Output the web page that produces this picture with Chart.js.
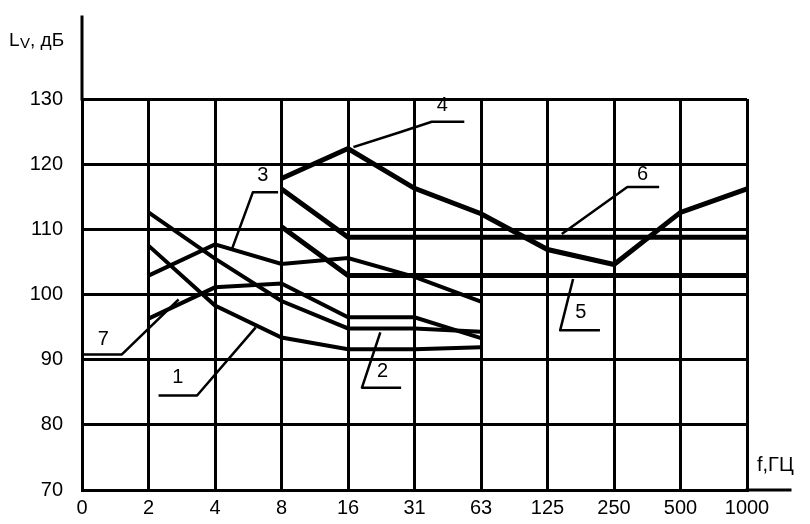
<!DOCTYPE html>
<html>
<head>
<meta charset="utf-8">
<script src="https://cdn.jsdelivr.net/npm/chart.js@4.4.1/dist/chart.umd.min.js"></script>
<style>
  html, body { margin: 0; padding: 0; background: #fff; }
  #wrap { width: 810px; height: 524px; }
</style>
</head>
<body>
<div id="wrap"><canvas id="chart" width="810" height="524"></canvas></div>
<script>
// frequency bands, Hz
const freqLabels = ["0", "2", "4", "8", "16", "31", "63", "125", "250", "500", "1000"];
const yTicks = [70, 80, 90, 100, 110, 120, 130];

// vibration level Lv, dB (null = no value at that band)
const curve1 = [null, 107.5, 98.3, 93.4, 91.6, 91.6, 91.9, null, null, null, null];
const curve2 = [null, 112.6, 105.5, 99.0, 94.8, 94.8, 94.3, null, null, null, null];
const curve3 = [null, 102.9, 107.7, 104.7, 105.6, 102.7, 98.9, null, null, null, null];
const curve4 = [null, null, null, 117.8, 122.4, 116.3, 112.4, 106.9, 104.6, 112.6, 116.2];
const curve5 = [null, null, null, 110.4, 102.9, 102.9, 102.9, 102.9, 102.9, 102.9, 102.9];
const curve6 = [null, null, null, 116.2, 108.8, 108.8, 108.8, 108.8, 108.8, 108.8, 108.8];
const curve7 = [null, 96.3, 101.1, 101.7, 96.5, 96.5, 93.3, null, null, null, null];

// curve number labels: leader polyline in (band index, dB) + text spot
const leaderNames = ["1", "2", "3", "4", "5", "6", "7"];
const leaderPaths = [
  [[2.6, 94.8], [1.73, 84.5], [1.17, 84.5]],
  [[4.48, 94.0], [4.21, 85.7], [4.78, 85.7]],
  [[2.26, 107.1], [2.57, 115.7], [2.93, 115.7]],
  [[4.1, 122.7], [4.78, 124.9], [5.26, 126.5], [5.73, 126.5]],
  [[7.38, 102.2], [7.19, 94.5], [7.77, 94.5]],
  [[7.23, 109.4], [8.2, 116.5], [8.66, 116.5]],
  [[1.44, 99.1], [0.6, 90.8], [0.02, 90.8]]
];
const leaderText = [[1.44, 87.2], [4.52, 88.2], [2.72, 118.2], [5.42, 129.0], [7.5, 97.2], [8.43, 118.4], [0.32, 93.1]];

const curves = [curve1, curve2, curve3, curve4, curve5, curve6, curve7];
const widths = [4, 4, 4, 5, 5, 5, 4];

const FONT = "'Liberation Sans', Arial, sans-serif";

const annotations = {
  id: "annotations",
  afterDatasetsDraw(chart) {
    const { ctx, scales: { x, y }, chartArea } = chart;
    ctx.save();
    ctx.strokeStyle = "#000";
    ctx.fillStyle = "#000";
    ctx.lineCap = "square";

    // axis extensions
    ctx.lineWidth = 3;
    ctx.beginPath();
    ctx.moveTo(chartArea.left, chartArea.top);
    ctx.lineTo(chartArea.left, 17);
    ctx.moveTo(chartArea.right, chartArea.bottom);
    ctx.lineTo(790, chartArea.bottom);
    ctx.stroke();

    // leaders
    ctx.lineWidth = 2.5;
    ctx.lineJoin = "round";
    leaderPaths.forEach((path) => {
      ctx.beginPath();
      path.forEach(([i, v], k) => {
        const px = x.getPixelForValue(i);
        const py = y.getPixelForValue(v);
        if (k === 0) ctx.moveTo(px, py);
        else ctx.lineTo(px, py);
      });
      ctx.stroke();
    });

    ctx.font = "20px " + FONT;
    ctx.textAlign = "center";
    ctx.textBaseline = "middle";
    leaderText.forEach(([i, v], k) => {
      ctx.fillText(leaderNames[k], x.getPixelForValue(i), y.getPixelForValue(v));
    });

    // axis titles
    ctx.textAlign = "left";
    ctx.font = "19px " + FONT;
    ctx.fillText("L", 9, 41);
    ctx.font = "15px " + FONT;
    ctx.fillText("V", 20, 44);
    ctx.font = "19px " + FONT;
    ctx.fillText(", дБ", 30, 41);
    ctx.font = "20px " + FONT;
    ctx.fillText("f,ГЦ", 757, 465);
    ctx.restore();
  }
};

new Chart(document.getElementById("chart"), {
  type: "line",
  data: {
    labels: freqLabels,
    datasets: curves.map((c, i) => ({
      label: leaderNames[i],
      data: c,
      borderColor: "#000",
      borderWidth: widths[i],
      pointRadius: 0,
      tension: 0,
      fill: false
    }))
  },
  options: {
    responsive: false,
    animation: false,
    layout: { padding: { top: 99, right: 63, left: 0, bottom: 0 } },
    plugins: { legend: { display: false }, tooltip: { enabled: false } },
    scales: {
      x: {
        offset: false,
        grid: { color: "#000", lineWidth: 3, drawTicks: false },
        border: { color: "#000", width: 3 },
        ticks: { color: "#000", font: { family: FONT, size: 20 }, padding: 6, maxRotation: 0, autoSkip: false },
        afterFit: (scale) => { scale.height = 34; }
      },
      y: {
        min: yTicks[0],
        max: yTicks[yTicks.length - 1],
        grid: { color: "#000", lineWidth: 3, drawTicks: false },
        border: { color: "#000", width: 3 },
        ticks: { color: "#000", stepSize: 10, font: { family: FONT, size: 20 }, padding: 19 },
        afterFit: (scale) => { scale.width = 82; }
      }
    }
  },
  plugins: [annotations]
});
</script>
</body>
</html>
